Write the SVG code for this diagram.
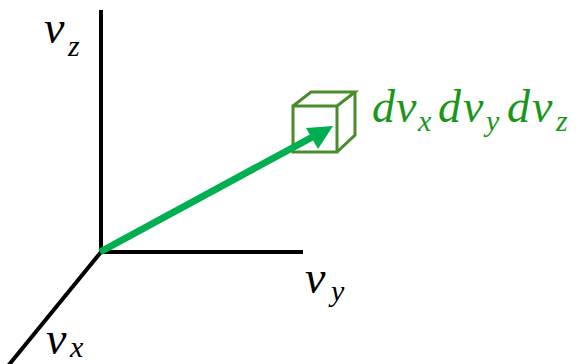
<svg xmlns="http://www.w3.org/2000/svg" width="584" height="364" viewBox="0 0 584 364">
<style>
.ax{stroke:#000;stroke-width:4;fill:none;stroke-linecap:butt}
.lbl{font-family:"Liberation Serif","DejaVu Serif",serif;font-style:italic;fill:#000;font-size:46px}
.sub{font-size:30px}
.g{fill:#1a961a;font-size:46px}
.cube{fill:none;stroke:#4a8c2c;stroke-width:3;stroke-linejoin:miter}
</style>
<g id="axes">
<line class="ax" x1="101" y1="10" x2="101" y2="253"/>
<line class="ax" x1="99" y1="252" x2="303" y2="252"/>
<line class="ax" x1="101" y1="252" x2="8" y2="366"/>
</g>
<g id="label-vz"><text class="lbl"><tspan x="44" y="43">v</tspan><tspan class="sub" x="68" y="56">z</tspan></text></g>
<g id="label-vy"><text class="lbl"><tspan x="305" y="293">v</tspan><tspan class="sub" x="331" y="301">y</tspan></text></g>
<g id="label-vx"><text class="lbl"><tspan x="46" y="354">v</tspan><tspan class="sub" x="70" y="357">x</tspan></text></g>
<g id="cube">
<path class="cube" d="M293,106 H337 V152 H293 Z M293,106 L311,92 H355 L337,106 M355,92 V135 L337,152"/>
</g>
<g id="connectors">
<line x1="100" y1="252" x2="318" y2="134" stroke="#00b050" stroke-width="7"/>
<polygon points="333,126 306,128 318,149" fill="#00b050"/>
</g>
<g id="label-dv"><text class="lbl g"><tspan x="372" y="122">d</tspan><tspan x="396" y="122">v</tspan><tspan class="sub" x="418" y="131">x</tspan><tspan x="438" y="122">d</tspan><tspan x="463" y="122">v</tspan><tspan class="sub" x="486" y="131">y</tspan><tspan x="507" y="122">d</tspan><tspan x="532" y="122">v</tspan><tspan class="sub" x="556" y="131">z</tspan></text></g>
</svg>
